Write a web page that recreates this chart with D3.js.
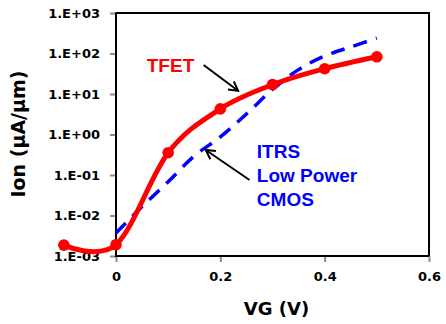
<!DOCTYPE html>
<html><head><meta charset="utf-8">
<script src="https://cdn.jsdelivr.net/npm/d3@7"></script>
<style>html,body{margin:0;padding:0;background:#fff;}</style>
</head><body>
<svg id="chart" width="446" height="324"></svg>
<script>
// ---- data ----
const tfetVG = [-0.1, 0, 0.1, 0.2, 0.3, 0.4, 0.5];
const tfetIon = [0.00186, 0.0019, 0.355, 4.3, 17, 42, 83];
const itrsVG = [0, 0.05, 0.1, 0.15, 0.2, 0.25, 0.3, 0.35, 0.4, 0.45, 0.5];
const itrsIon = [0.0037, 0.0166, 0.068, 0.295, 0.87, 3.2, 12.9, 40, 87, 145, 240];
const xTicks = [0, 0.2, 0.4, 0.6];
const xTickLabels = ["0", "0.2", "0.4", "0.6"];
const yTicks = [1e-3, 1e-2, 1e-1, 1, 10, 100, 1000];
const yTickLabels = ["1.E-03", "1.E-02", "1.E-01", "1.E+00", "1.E+01", "1.E+02", "1.E+03"];
const xTitle = "VG (V)";
const yTitle = "Ion (\u03BCA/\u03BCm)";
// annotations (data coordinates)
const tfetLabel = {text: "TFET", vg: 0.059, ion: 34, arrowFrom: [0.168, 52], arrowTo: [0.234, 12]};
const itrsLabel = {lines: ["ITRS", "Low Power", "CMOS"], vg: 0.270, ion: 0.258, arrowFrom: [0.256, 0.0753], arrowTo: [0.172, 0.414]};

// ---- chart ----
const svg = d3.select("#chart");
const x = d3.scaleLinear().domain([0, 0.6]).range([116, 429]);
const y = d3.scaleLog().domain([1e-3, 1e3]).range([256, 13]);

// frame
svg.append("rect").attr("x", x(0)).attr("y", y(1e3)).attr("width", x(0.6) - x(0)).attr("height", y(1e-3) - y(1e3))
  .attr("fill", "none").attr("stroke", "#000").attr("stroke-width", 2);

// y axis
const yAxis = svg.append("g").attr("transform", `translate(${x(0)},0)`)
  .call(d3.axisLeft(y).tickValues(yTicks).tickFormat((d, i) => yTickLabels[i]).tickSize(6).tickPadding(10));
yAxis.select(".domain").remove();
yAxis.selectAll(".tick line").attr("stroke", "#8c8c8c").attr("stroke-width", 2);
yAxis.selectAll(".tick text").attr("font-family", "DejaVu Sans").attr("font-weight", "bold").attr("font-size", 13).attr("fill", "#000");

// x axis
const xAxis = svg.append("g").attr("transform", `translate(0,${y(1e-3)})`)
  .call(d3.axisBottom(x).tickValues(xTicks).tickFormat((d, i) => xTickLabels[i]).tickSize(6).tickPadding(10));
xAxis.select(".domain").remove();
xAxis.selectAll(".tick line").attr("stroke", "#8c8c8c").attr("stroke-width", 2);
xAxis.selectAll(".tick text").attr("font-family", "DejaVu Sans").attr("font-weight", "bold").attr("font-size", 13).attr("fill", "#000");

// axis lines on top
svg.append("line").attr("x1", x(0)).attr("x2", x(0)).attr("y1", y(1e3)).attr("y2", y(1e-3) + 1).attr("stroke", "#000").attr("stroke-width", 2);
svg.append("line").attr("x1", x(0)).attr("x2", x(0.6)).attr("y1", y(1e-3)).attr("y2", y(1e-3)).attr("stroke", "#000").attr("stroke-width", 2);

// titles
svg.append("text").attr("x", (x(0) + x(0.6)) / 2 + 4).attr("y", 315).attr("text-anchor", "middle")
  .attr("font-family", "DejaVu Sans").attr("font-weight", "bold").attr("font-size", 18).text(xTitle);
svg.append("text").attr("transform", `translate(25,${134}) rotate(-90)`).attr("text-anchor", "middle")
  .attr("font-family", "DejaVu Sans").attr("font-weight", "bold").attr("font-size", 19).text(yTitle);

// ITRS dashed line
const itrsData = itrsVG.map((v, i) => [v, itrsIon[i]]);
svg.append("path").datum(itrsData)
  .attr("d", d3.line().x(d => x(d[0])).y(d => y(d[1])).curve(d3.curveCatmullRom))
  .attr("fill", "none").attr("stroke", "#0000ff").attr("stroke-width", 3.5).attr("stroke-dasharray", "14,9.5");

// TFET line
const tfetData = tfetVG.map((v, i) => [v, tfetIon[i]]);
svg.append("path").datum(tfetData)
  .attr("d", d3.line().x(d => x(d[0])).y(d => y(d[1])).curve(d3.curveCatmullRom.alpha(0)))
  .attr("fill", "none").attr("stroke", "#ff0000").attr("stroke-width", 5);
svg.selectAll("circle.tfet").data(tfetData).join("circle").attr("class", "tfet")
  .attr("cx", d => x(d[0])).attr("cy", d => y(d[1])).attr("r", 5.8).attr("fill", "#ff0000");

// arrow marker
svg.append("defs").append("marker").attr("id", "ah").attr("viewBox", "0 0 12 12")
  .attr("refX", 10).attr("refY", 6).attr("markerWidth", 12).attr("markerHeight", 12).attr("markerUnits", "userSpaceOnUse")
  .attr("orient", "auto")
  .append("path").attr("d", "M1,1 L10,6 L1,11").attr("fill", "none").attr("stroke", "#000").attr("stroke-width", 2);

function arrow(a) {
  svg.append("line").attr("x1", x(a.arrowFrom[0])).attr("y1", y(a.arrowFrom[1]))
    .attr("x2", x(a.arrowTo[0])).attr("y2", y(a.arrowTo[1]))
    .attr("stroke", "#000").attr("stroke-width", 2).attr("marker-end", "url(#ah)");
}
arrow(tfetLabel);
arrow(itrsLabel);

// labels
svg.append("text").attr("x", x(tfetLabel.vg)).attr("y", y(tfetLabel.ion))
  .attr("font-family", "Liberation Sans").attr("font-weight", "bold").attr("font-size", 19).attr("fill", "#ff0000").text(tfetLabel.text);
const it = svg.append("text").attr("x", x(itrsLabel.vg)).attr("y", y(itrsLabel.ion))
  .attr("font-family", "Liberation Sans").attr("font-weight", "bold").attr("font-size", 19).attr("fill", "#0000ff");
itrsLabel.lines.forEach((l, i) => it.append("tspan").attr("x", x(itrsLabel.vg)).attr("dy", i === 0 ? 0 : 23.8).text(l));
</script>
</body></html>
